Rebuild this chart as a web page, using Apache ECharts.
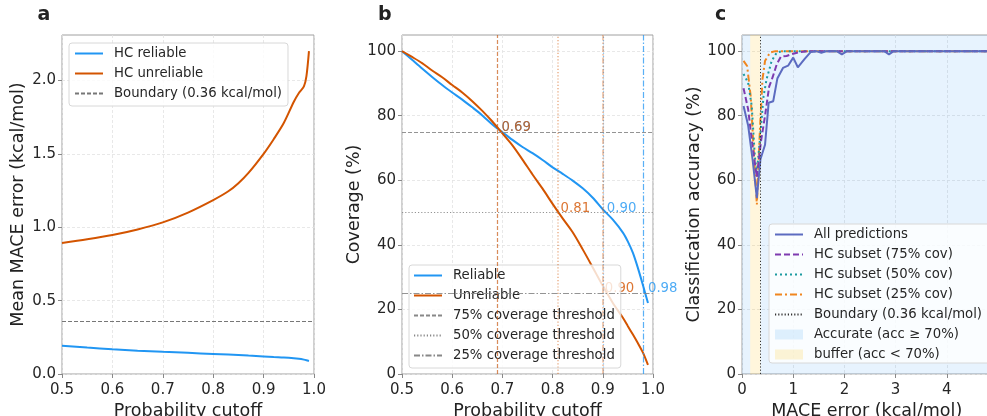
<!DOCTYPE html>
<html><head><meta charset="utf-8">
<script src="https://cdn.jsdelivr.net/npm/echarts@6/dist/echarts.min.js"></script>
<style>html,body{margin:0;padding:0;background:#fff}#c{width:987px;height:416px}</style>
</head><body><div id="c"></div>
<script>
// ---------------- data: panel a ----------------
const cutoffA = [0.50,0.55,0.60,0.65,0.70,0.75,0.80,0.83,0.85,0.87,0.90,0.92,0.94,0.96,0.97,0.98,0.985,0.99];
const maceReliable = [0.193,0.180,0.169,0.159,0.151,0.144,0.137,0.133,0.130,0.126,0.120,0.116,0.113,0.108,0.104,0.098,0.094,0.089];
const maceUnreliable = [0.893,0.918,0.947,0.985,1.033,1.100,1.185,1.245,1.300,1.370,1.500,1.600,1.710,1.855,1.915,1.960,2.030,2.200];
const boundaryMace = 0.36;
const ticksAx = [0.5,0.6,0.7,0.8,0.9,1.0];
const ticksAy = [0.0,0.5,1.0,1.5,2.0];

// ---------------- data: panel b ----------------
const cutoffB = [0.50,0.52,0.54,0.56,0.58,0.60,0.62,0.64,0.66,0.68,0.70,0.72,0.74,0.76,0.78,0.80,0.82,0.84,0.86,0.88,0.90,0.92,0.94,0.95,0.96,0.97,0.98,0.99];
const covReliable = [100,97.3,94.6,92.0,89.5,87.2,85.0,82.6,80.1,77.3,74.9,72.5,70.3,68.4,66.3,64.0,62.0,59.9,57.5,54.6,51.0,47.8,43.8,41.0,37.5,32.8,27.5,22.0];
const covUnreliable = [100,98.2,96.3,94.0,91.9,89.5,87.2,84.5,81.5,78.2,74.5,70.8,66.4,61.8,57.4,52.7,48.2,43.9,38.6,33.0,27.3,22.0,17.4,14.8,12.2,9.5,6.6,2.8];
const coverageLevels = [75,50,25];
const coverageNames = ['75% coverage threshold','50% coverage threshold','25% coverage threshold'];
const thrReliable = [0.692,0.902,0.984];
const thrUnreliable = [0.692,0.810,0.898];
const ticksBx = [0.5,0.6,0.7,0.8,0.9,1.0];
const ticksBy = [0,20,40,60,80,100];

// ---------------- data: panel c ----------------
const errAll = [0.03,0.12,0.21,0.29,0.36,0.45,0.52,0.61,0.69,0.80,0.90,1.00,1.09,1.22,1.34,1.45,1.55,1.65,1.85,1.95,2.05,2.50,2.78,2.87,2.96,3.50,4.00,4.50,4.87];
const accAll = [83,77,66,54.5,66.5,71,84,84.5,91.5,94.8,95.5,98,95,97.5,99.7,100,99.5,100,100,99,100,100,100,99,100,100,100,100,100];
const err75 = [0.03,0.12,0.21,0.29,0.37,0.45,0.53,0.60,0.68,0.76,0.87,1.00,1.10,1.30,2.0,3.0,4.0,4.87];
const acc75 = [88.5,82,70,61,72,80,89,92,96,98.3,98.5,99.2,99.6,100,100,100,100,100];
const err50 = [0.03,0.12,0.19,0.25,0.29,0.35,0.42,0.48,0.58,0.68,0.80,1.0,2.0,3.0,4.0,4.87];
const acc50 = [92.9,90.2,83,67.5,62.4,72.7,86,91.3,97,99.6,100,100,100,100,100,100];
const err25 = [0.03,0.10,0.17,0.22,0.29,0.35,0.40,0.45,0.55,0.65,1.0,2.0,3.0,4.0,4.87];
const acc25 = [97,95.4,86,71.6,52.5,75.8,91.3,97,99.6,100,100,100,100,100,100];
const bufferRange = [0.16,0.36];
const boundaryC = 0.36;
const maxErrC = 4.87;
const ticksCx = [0,1,2,3,4];
const ticksCy = [0,20,40,60,80,100];

// ---------------- styling ----------------
const FONT = 'DejaVu Sans';
const BLUE = '#2196F3', ORANGE = '#D35400';
const C_ALL = '#5C6BC0', C_75 = '#7E3BB0', C_50 = '#1B9AA0', C_25 = '#F0861F';
const DASH = [4,2], DOT = [1.2,2], DASHDOT = [6,2,1.5,2];
const levelDash = [DASH, DOT, DASHDOT];
const zip = (xs, ys) => xs.map((x, i) => [x, ys[i]]);

const grids = [
  {left:62, top:35, width:252, height:339},
  {left:402, top:35, width:251, height:339},
  {left:742, top:35, width:249.4, height:339}
].map(g => Object.assign({show:true, borderColor:'#a0a0a0', borderWidth:1, backgroundColor:'transparent',
  containLabel:false, outerBoundsMode:'none'}, g));

function axis(gi, opt, ticks, fmt, name, gap, isY) {
  return Object.assign({
    gridIndex: gi, type:'value', name: name, nameLocation:'middle', nameGap: gap,
    nameRotate: isY ? 90 : 0,
    nameTextStyle:{fontFamily:FONT, fontSize:17.5, color:'#222'},
    axisLine:{show:false},
    axisTick:{show:true, inside:false, length:4, customValues: ticks, lineStyle:{color:'#888', width:1}},
    axisLabel:{show:true, margin: isY ? 6 : 9, customValues: ticks, formatter: fmt, fontFamily:FONT, fontSize:15, color:'#262626', hideOverlap:false},
    splitLine:{show:true, lineStyle:{color:'#e2e2e2', width:0.8, type:[3,2]}}
  }, opt);
}
const f1 = v => Number(v).toFixed(1);
const f0 = v => String(Math.round(v));

const xAxes = [
  axis(0, {min:0.5, max:1.0, interval:0.1}, ticksAx, f1, 'Probability cutoff', 27, false),
  axis(1, {min:0.5, max:1.0, interval:0.1}, ticksBx, f1, 'Probability cutoff', 27, false),
  axis(2, {min:0, max:maxErrC, interval:1}, ticksCx, f0, 'MACE error (kcal/mol)', 27, false)
];
const yAxes = [
  axis(0, {min:0, max:2.31, interval:0.5}, ticksAy, f1, 'Mean MACE error (kcal/mol)', 35, true),
  axis(1, {min:0, max:105, interval:20}, ticksBy, f0, 'Coverage (%)', 39, true),
  axis(2, {min:0, max:105, interval:20}, ticksCy, f0, 'Classification accuracy (%)', 38, true)
];

const noSym = {symbol:'none', showSymbol:false};
const series = [];

// panel a
series.push(Object.assign({type:'line', name:'HC reliable', xAxisIndex:0, yAxisIndex:0, data:zip(cutoffA, maceReliable), smooth:0.3,
  lineStyle:{color:BLUE, width:2}, itemStyle:{color:BLUE}, z:3}, noSym));
series.push(Object.assign({type:'line', name:'HC unreliable', xAxisIndex:0, yAxisIndex:0, data:zip(cutoffA, maceUnreliable), smooth:0.3,
  lineStyle:{color:ORANGE, width:2}, itemStyle:{color:ORANGE}, z:3}, noSym));
series.push(Object.assign({type:'line', name:'Boundary (0.36 kcal/mol)', xAxisIndex:0, yAxisIndex:0, data:[],
  lineStyle:{color:'#777', width:1.2, type:DASH}, itemStyle:{color:'#777'},
  markLine:{silent:true, symbol:['none','none'], label:{show:false}, lineStyle:{color:'#777', width:1.2, type:DASH}, data:[{yAxis:boundaryMace}]}}, noSym));

// panel b: one marker series per threshold line so each keeps its own colour
function vLineSeries(thr, color, alphas, widths, zz) {
  return thr.map((t, i) => Object.assign({type:'line', name:'vl-' + color + i, xAxisIndex:1, yAxisIndex:1, data:[], z:zz,
    lineStyle:{color:color}, itemStyle:{color:color},
    markLine:{silent:true, symbol:['none','none'], label:{show:false},
      lineStyle:{color:color, type:levelDash[i], width:widths[i], opacity:alphas[i]}, data:[{xAxis:t}]}}, noSym));
}
vLineSeries(thrReliable, BLUE, [0.12,0.5,0.75], [1.2,1.2,1.2], 2).forEach(s => series.push(s));
vLineSeries(thrUnreliable, ORANGE, [0.65,0.45,0.3], [1.2,1.5,2], 2).forEach(s => series.push(s));
series.push(Object.assign({type:'line', name:'Reliable', xAxisIndex:1, yAxisIndex:1, data:zip(cutoffB, covReliable), smooth:0.3,
  lineStyle:{color:BLUE, width:2}, itemStyle:{color:BLUE}, z:3}, noSym));
series.push(Object.assign({type:'line', name:'Unreliable', xAxisIndex:1, yAxisIndex:1, data:zip(cutoffB, covUnreliable), smooth:0.3,
  lineStyle:{color:ORANGE, width:2}, itemStyle:{color:ORANGE}, z:3}, noSym));
coverageLevels.forEach((lv, i) => {
  series.push(Object.assign({type:'line', name:coverageNames[i], xAxisIndex:1, yAxisIndex:1, data:[],
    lineStyle:{color:'#888', width:1, type:levelDash[i]}, itemStyle:{color:'#888'},
    markLine:{silent:true, symbol:['none','none'], label:{show:false}, lineStyle:{color:'#888', width:1, type:levelDash[i], opacity:0.9}, data:[{yAxis:lv}]}}, noSym));
});
const annData = [];
thrReliable.forEach((t, i) => annData.push({value:[t, coverageLevels[i]], label:{color:BLUE}}));
thrUnreliable.forEach((t, i) => annData.push({value:[t, coverageLevels[i]], label:{color:ORANGE}}));
series.push({type:'scatter', name:'thr-labels', xAxisIndex:1, yAxisIndex:1, symbolSize:0, silent:true, z:3, clip:false,
  data:annData,
  label:{show:true, formatter:p => p.value[0].toFixed(2), position:[3,2], align:'left', verticalAlign:'bottom', fontFamily:FONT, fontSize:13.25}});

// panel c
series.push(Object.assign({type:'line', name:'Accurate (acc ≥ 70%)', xAxisIndex:2, yAxisIndex:2, data:[],
  lineStyle:{width:0, color:'rgba(33,150,243,0.11)'}, itemStyle:{color:'rgba(33,150,243,0.13)'}, z:1,
  markArea:{silent:true, itemStyle:{color:'rgba(33,150,243,0.11)'}, data:[[{xAxis:0},{xAxis:bufferRange[0]}],[{xAxis:bufferRange[1]},{xAxis:maxErrC}]]}}, noSym));
series.push(Object.assign({type:'line', name:'buffer (acc < 70%)', xAxisIndex:2, yAxisIndex:2, data:[],
  lineStyle:{width:0, color:'rgba(255,193,7,0.15)'}, itemStyle:{color:'rgba(255,193,7,0.17)'}, z:1,
  markArea:{silent:true, itemStyle:{color:'rgba(255,193,7,0.14)'}, data:[[{xAxis:bufferRange[0]},{xAxis:bufferRange[1]}]]}}, noSym));
series.push(Object.assign({type:'line', name:'Boundary (0.36 kcal/mol) ', xAxisIndex:2, yAxisIndex:2, data:[],
  lineStyle:{color:'#333', width:1, type:DOT}, itemStyle:{color:'#333'},
  markLine:{silent:true, symbol:['none','none'], label:{show:false}, lineStyle:{color:'#333', width:1, type:DOT}, data:[{xAxis:boundaryC}]}}, noSym));
series.push(Object.assign({type:'line', name:'HC subset (25% cov)', xAxisIndex:2, yAxisIndex:2, data:zip(err25, acc25),
  lineStyle:{color:C_25, width:2, type:[7,3,2,3]}, itemStyle:{color:C_25}, z:3}, noSym));
series.push(Object.assign({type:'line', name:'HC subset (50% cov)', xAxisIndex:2, yAxisIndex:2, data:zip(err50, acc50),
  lineStyle:{color:C_50, width:2, type:[2,3]}, itemStyle:{color:C_50}, z:3}, noSym));
series.push(Object.assign({type:'line', name:'HC subset (75% cov)', xAxisIndex:2, yAxisIndex:2, data:zip(err75, acc75),
  lineStyle:{color:C_75, width:2, type:[6,3]}, itemStyle:{color:C_75}, z:3}, noSym));
series.push(Object.assign({type:'line', name:'All predictions', xAxisIndex:2, yAxisIndex:2, data:zip(errAll, accAll),
  lineStyle:{color:C_ALL, width:2}, itemStyle:{color:C_ALL}, z:4}, noSym));

function legend(left, top, names, padding) {
  return {show:true, orient:'vertical', left:left, top:top, data:names, selectedMode:false,
    itemWidth:28, itemHeight:10, itemGap:5, padding:padding,
    itemStyle:{opacity:0},
    backgroundColor:'rgba(255,255,255,0.8)', borderColor:'#d8d8d8', borderWidth:1, borderRadius:3,
    textStyle:{fontFamily:FONT, fontSize:13.25, color:'#262626', lineHeight:15, padding:[0,0,0,6]}};
}
const legends = [
  legend(69, 43, ['HC reliable','HC unreliable','Boundary (0.36 kcal/mol)'], [3,6,5,5]),
  legend(409, 265, ['Reliable','Unreliable'].concat(coverageNames), [3,6,5,4]),
  legend(769, 224, ['All predictions','HC subset (75% cov)','HC subset (50% cov)','HC subset (25% cov)','Boundary (0.36 kcal/mol) ',
    {name:'Accurate (acc ≥ 70%)', icon:'rect', itemStyle:{opacity:1, color:'rgba(33,150,243,0.13)'}},
    {name:'buffer (acc < 70%)', icon:'rect', itemStyle:{opacity:1, color:'rgba(255,193,7,0.17)'}}], [3,6,1,5])
];

const panelLabels = [['a',37.5],['b',378],['c',715]];
const chart = echarts.init(document.getElementById('c'), null, {renderer:'canvas'});
chart.setOption({
  animation:false,
  backgroundColor:'#fff',
  textStyle:{fontFamily:FONT},
  grid:grids, xAxis:xAxes, yAxis:yAxes, legend:legends, series:series,
  graphic: panelLabels.map(([t, x]) => ({type:'text', left:x, top:6, style:{text:t, font:'bold 19px "DejaVu Sans"', fill:'#222'}}))
});
</script></body></html>
